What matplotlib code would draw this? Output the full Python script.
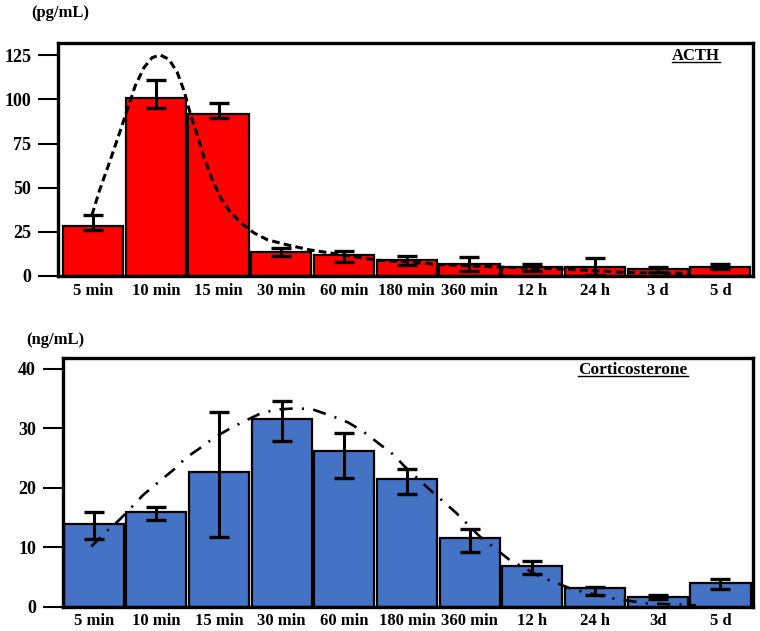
import matplotlib
matplotlib.use("Agg")
import matplotlib.pyplot as plt
from matplotlib.lines import Line2D
import numpy as np

plt.rcParams['font.family'] = ['Liberation Serif', 'DejaVu Serif']
plt.rcParams['font.weight'] = 'bold'

# ACTH (pg/mL)
acth_labels = ["5 min", "10 min", "15 min", "30 min", "60 min", "180 min",
               "360 min", "12 h", "24 h", "3 d", "5 d"]
acth = [28.5, 101, 92, 13.5, 11.8, 9, 6.8, 5, 5.3, 4.1, 5.3]
acth_hi = [34.5, 111, 98, 16, 14, 11.4, 10.8, 6.6, 10.4, 5.0, 6.8]
acth_lo = [26, 95, 89.5, 11.5, 8, 6.5, 3, 3, 0.5, 2.5, 4.0]
acth_fit_x = [-0.02, 0.11, 0.27, 0.43, 0.57, 0.67, 0.81, 0.94, 1.07, 1.21,
              1.34, 1.45, 1.55, 1.66, 1.77, 1.90, 2.03, 2.19, 2.38, 2.57,
              2.78, 3.10, 3.45, 3.98, 4.5, 5.0, 5.5, 6.5, 7.44, 8.5, 9.4]
acth_fit_y = [34.4, 49.3, 65.3, 82, 96.8, 107.6, 118, 123.7, 125.2, 122.7,
              115.4, 104.9, 91.8, 79.9, 67, 54.6, 44.4, 36, 29.4, 24.3,
              20.5, 17.6, 14.8, 12, 9, 8, 6.5, 5, 4, 2, 1.5]

# Corticosterone (ng/mL)
cort_labels = ["5 min", "10 min", "15 min", "30 min", "60 min", "180 min",
               "360 min", "12 h", "24 h", "3d", "5 d"]
cort = [13.9, 15.9, 22.6, 31.6, 26.2, 21.5, 11.5, 6.8, 3.1, 1.6, 4.0]
cort_hi = [15.9, 16.7, 32.8, 34.6, 29.3, 23.2, 13.1, 7.7, 3.3, 1.9, 4.7]
cort_lo = [11.3, 14.5, 11.7, 27.9, 21.7, 18.9, 9.1, 5.4, 2.0, 1.3, 2.9]
cort_fit_x = [-0.04, 0.23, 0.41, 0.63, 0.79, 1.05, 1.27, 1.48, 1.70, 1.93,
              2.18, 2.44, 2.70, 2.97, 3.26, 3.52, 3.82, 4.06, 4.31, 4.53,
              4.78, 4.96, 5.36, 5.78, 6.16, 6.63, 7.11, 7.64, 8.23, 8.81, 9.61]
cort_fit_y = [10.1, 12.9, 14.6, 17.0, 18.8, 21.1, 23.0, 25.1, 26.7, 28.5,
              30.0, 31.4, 32.7, 33.2, 33.4, 33.1, 32.0, 31.0, 29.4, 27.6,
              25.6, 23.6, 19.7, 15.8, 11.8, 7.9, 5.1, 2.9, 1.45, 0.55, 0.2]

fig = plt.figure(figsize=(7.6, 6.31), dpi=100)
ax1 = fig.add_axes([0.0763, 0.5626, 0.9145, 0.3693])
ax2 = fig.add_axes([0.0829, 0.0388, 0.9079, 0.3943])


def draw_panel(ax, labels, vals, hi, lo, color, fx, fy, ls, lw, ylim, yticks, xlim):
    x = np.arange(len(vals))
    vals = np.array(vals)
    err = [vals - np.array(lo), np.array(hi) - vals]
    ax.bar(x, vals, width=0.96, color=color, edgecolor='black', linewidth=1.6, zorder=2)
    ax.errorbar(x, vals, yerr=err, fmt='none', ecolor='black', elinewidth=2.2,
                capsize=7, capthick=2.4, zorder=3)
    ax.plot(fx, fy, color='black', linestyle=ls, linewidth=lw, zorder=4)
    ax.set_xlim(*xlim)
    ax.set_ylim(*ylim)
    ax.set_yticks(yticks)
    ax.set_xticks(x)
    ax.set_xticklabels(labels)
    for s in ax.spines.values():
        s.set_linewidth(2.4)
    ax.tick_params(axis='y', length=14.4, width=1.5, pad=5, labelsize=13)
    ax.tick_params(axis='x', length=0, pad=5, labelsize=12)


draw_panel(ax1, acth_labels, acth, acth_hi, acth_lo, '#ff0000',
           acth_fit_x, acth_fit_y, (0, (2.5, 1.4)), 2.2,
           (0, 132), [0, 25, 50, 75, 100, 125], (-0.56, 10.52))
draw_panel(ax2, cort_labels, cort, cort_hi, cort_lo, '#4472c4',
           cort_fit_x, cort_fit_y, (0, (5.0, 3.5, 0.8, 3.5)), 1.9,
           (0, 41.9), [0, 10, 20, 30, 40], (-0.49, 10.52))

fig.text(60 / 760, 1 - 13 / 631, "(pg/mL)", ha='center', va='center', fontsize=12, fontweight='bold')
fig.text(55 / 760, 1 - 340 / 631, "(ng/mL)", ha='center', va='center', fontsize=12, fontweight='bold')

t1 = fig.text(696 / 760, 1 - 56 / 631, "ACTH", ha='center', va='center',
              fontsize=12, fontweight='bold')
t2 = fig.text(633 / 760, 1 - 370 / 631, "Corticosterone", ha='center', va='center',
              fontsize=12.4, fontweight='bold')

# underline the panel titles
fig.canvas.draw()
renderer = fig.canvas.get_renderer()
inv = fig.transFigure.inverted()
for t in (t1, t2):
    bb = t.get_window_extent(renderer)
    (x0, y0), (x1, _) = inv.transform([[bb.x0, bb.y0 + 2], [bb.x1, bb.y0 + 2]])
    fig.add_artist(Line2D([x0, x1], [y0, y0], color='black', linewidth=1.0,
                          transform=fig.transFigure))

fig.savefig("out.png", dpi=100)
